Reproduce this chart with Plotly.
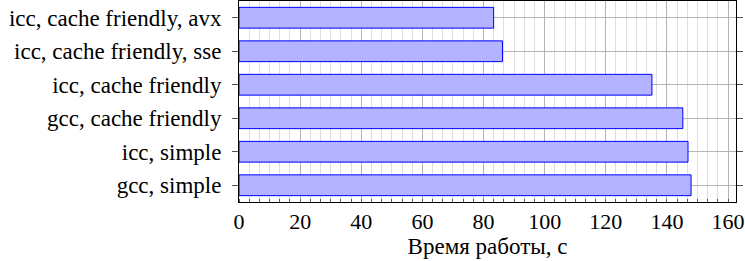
import plotly.graph_objects as go

categories = ["gcc, simple", "icc, simple", "gcc, cache friendly",
              "icc, cache friendly", "icc, cache friendly, sse", "icc, cache friendly, avx"]
times = [147.9, 146.9, 145.2, 135.1, 86.2, 83.3]
x_ticks = [0, 20, 40, 60, 80, 100, 120, 140, 160]
x_title = "Время работы, с"

FONT = "Liberation Serif"

fig = go.Figure(go.Bar(
    x=times, y=categories, orientation="h", width=0.62,
    marker=dict(color="#b3b3ff", line=dict(color="#0000ff", width=1)),
    hoverinfo="skip",
))

fig.update_layout(
    width=745, height=261,
    margin=dict(l=239, r=9, t=1, b=59),
    paper_bgcolor="white", plot_bgcolor="white",
    font=dict(family=FONT, size=22, color="black"),
    showlegend=False,
)
fig.update_xaxes(
    automargin=False,
    range=[0, 162.6], tickvals=x_ticks, ticktext=[str(v) for v in x_ticks],
    showgrid=True, gridcolor="#b4b4b4", gridwidth=1,
    minor=dict(dtick=20/6, tick0=0, showgrid=True, gridcolor="#dedede", gridwidth=1,
               ticks="inside", ticklen=3, tickcolor="#555"),
    showline=True, linecolor="black", linewidth=1, mirror=True,
    ticks="", zeroline=False,
    title=dict(text=x_title, standoff=4, font=dict(family=FONT, size=23)),
    tickfont=dict(family=FONT, size=22),
)
fig.update_yaxes(
    automargin=False,
    type="category", categoryorder="array", categoryarray=categories,
    range=[-0.5, 5.5],
    showgrid=True, gridcolor="#b4b4b4", gridwidth=1,
    showline=True, linecolor="black", linewidth=1, mirror="ticks",
    ticks="outside", ticklen=6, tickcolor="#555",
    ticklabelstandoff=6,
    tickfont=dict(family=FONT, size=23),
    zeroline=False,
)

fig.write_html("out.html", config={"displayModeBar": False},
               post_script="document.body.style.margin='0';document.body.style.padding='0';")
